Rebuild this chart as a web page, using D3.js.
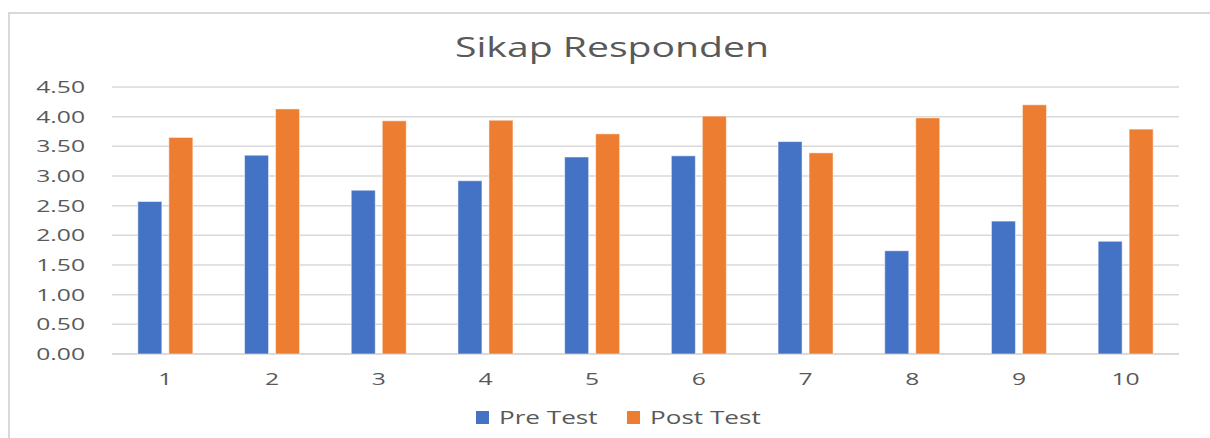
<!DOCTYPE html>
<html>
<head>
<meta charset="utf-8">
<script src="https://cdn.jsdelivr.net/npm/d3@7"></script>
<style>
  body { margin: 0; background: #fff; }
  svg { display: block; font-family: "Open Sans", sans-serif; }
</style>
</head>
<body>
<svg width="1210" height="438"></svg>
<script>
// categories and series
var categories = ["1", "2", "3", "4", "5", "6", "7", "8", "9", "10"];
var preTest  = [2.57, 3.35, 2.76, 2.92, 3.32, 3.34, 3.58, 1.74, 2.24, 1.90];
var postTest = [3.65, 4.13, 3.93, 3.94, 3.71, 4.01, 3.39, 3.98, 4.20, 3.79];
var yTicks = [0, 0.5, 1, 1.5, 2, 2.5, 3, 3.5, 4, 4.5];
var seriesNames = ["Pre Test", "Post Test"];
var colors = ["#4472C4", "#ED7D31"];

var stretch = 1.45; // the picture is widened horizontally

function drawChart() {
    var svg = d3.select("svg");

    // frame (only top and left show)
    svg.append("path")
        .attr("d", "M9,438 V13 H1210")
        .attr("fill", "none")
        .attr("stroke", "#d9d9d9")
        .attr("stroke-width", 2);

    var plotLeft = 112, plotRight = 1179, plotTop = 87, plotBottom = 354;

    var x = d3.scaleBand().domain(categories).range([plotLeft, plotRight]);
    var y = d3.scaleLinear().domain([0, 4.5]).range([plotBottom, plotTop]);

    // grid
    svg.append("g").selectAll("line")
        .data(yTicks)
        .enter()
        .append("line")
        .attr("x1", plotLeft).attr("x2", plotRight)
        .attr("y1", function(d) { return y(d); })
        .attr("y2", function(d) { return y(d); })
        .attr("stroke", "#d9d9d9")
        .attr("stroke-width", function(d) { return d === 0 ? 2 : 1.5; });

    // y labels
    svg.append("g").selectAll("text")
        .data(yTicks)
        .enter()
        .append("text")
        .attr("class", "st")
        .attr("x", 85)
        .attr("y", function(d) { return y(d) + 6; })
        .attr("text-anchor", "end")
        .attr("font-size", 17)
        .attr("fill", "#595959")
        .text(function(d) { return d3.format(".2f")(d); });

    // x labels
    svg.append("g").selectAll("text")
        .data(categories)
        .enter()
        .append("text")
        .attr("class", "st")
        .attr("x", function(d) { return x(d) + x.bandwidth() / 2; })
        .attr("y", 385)
        .attr("text-anchor", "middle")
        .attr("font-size", 17)
        .attr("fill", "#595959")
        .text(function(d) { return d; });

    // bars
    var barW = x.bandwidth() * 0.225, gap = 7;
    [preTest, postTest].forEach(function(vals, s) {
        svg.append("g").selectAll("rect")
            .data(vals)
            .enter()
            .append("rect")
            .attr("x", function(d, i) {
                var c = x(categories[i]) + x.bandwidth() / 2;
                return s === 0 ? c - gap / 2 - barW : c + gap / 2;
            })
            .attr("y", function(d) { return y(d); })
            .attr("width", barW)
            .attr("height", function(d) { return plotBottom - y(d); })
            .attr("fill", colors[s])
            .attr("stroke", "#ffffff")
            .attr("stroke-opacity", 0.5)
            .attr("stroke-width", 1);
    });

    // title
    svg.append("text")
        .attr("class", "st")
        .attr("x", 612)
        .attr("y", 57)
        .attr("text-anchor", "middle")
        .attr("font-size", 27)
        .attr("fill", "#595959")
        .text("Sikap Responden");

    // legend
    var legendX = [476, 627];
    seriesNames.forEach(function(name, i) {
        svg.append("rect")
            .attr("x", legendX[i]).attr("y", 411)
            .attr("width", 13).attr("height", 13)
            .attr("fill", colors[i]);
        svg.append("text")
            .attr("class", "st")
            .attr("x", legendX[i] + 23)
            .attr("y", 424)
            .attr("font-size", 18)
            .attr("fill", "#595959")
            .text(name);
    });

    // widen the text like the picture
    svg.selectAll("text.st").each(function() {
        var len = this.getComputedTextLength();
        d3.select(this)
            .attr("textLength", len * stretch)
            .attr("lengthAdjust", "spacingAndGlyphs");
    });
}

drawChart();
</script>
</body>
</html>
